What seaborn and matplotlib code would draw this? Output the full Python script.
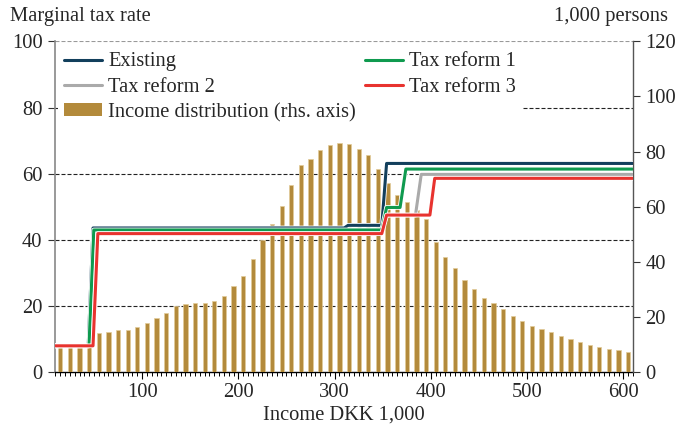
import matplotlib
matplotlib.use("Agg")
import matplotlib.pyplot as plt
import matplotlib.patheffects as pe
from matplotlib.ticker import MultipleLocator
from matplotlib.patches import Patch
from matplotlib.lines import Line2D
import seaborn as sns
import pandas as pd

# ---------------- data ----------------
income_bins = list(range(15, 606, 10))  # DKK 1,000 (bin centres)
persons = [9.5, 9.7, 10.0, 10.0, 14.1, 14.7, 15.3, 15.3, 16.4, 17.9,
           19.7, 21.6, 24.0, 24.7, 25.1, 25.1, 25.8, 27.5, 31.4, 35.0,
           40.9, 47.9, 53.7, 60.3, 67.9, 75.0, 77.3, 80.5, 82.4, 83.2,
           82.6, 81.0, 78.7, 73.7, 68.7, 64.1, 61.8, 59.0, 55.4, 47.2,
           41.9, 37.7, 33.3, 30.1, 26.9, 25.0, 22.9, 20.5, 18.6, 16.9,
           15.7, 14.5, 13.0, 12.2, 11.0, 10.0, 9.3, 8.4, 8.0, 7.4]  # 1,000 persons

existing_x = [9.5, 44, 49, 310, 314, 349, 354, 610]
existing_y = [8, 8, 43.6, 43.6, 44.4, 44.4, 63.1, 63.1]
reform1_x = [9.5, 44.8, 49.8, 349, 354, 368, 374, 610]
reform1_y = [8, 8, 43.0, 43.0, 49.8, 49.8, 61.4, 61.4]
reform2_x = [9.5, 44.8, 49.8, 349, 354, 384, 390, 610]
reform2_y = [8, 8, 43.0, 43.0, 47.5, 47.5, 59.8, 59.8]
reform3_x = [9.5, 49, 54, 349, 354, 399, 404, 610]
reform3_y = [8, 8, 41.9, 41.9, 47.5, 47.5, 58.6, 58.6]

left_ticks = [0, 20, 40, 60, 80, 100]
right_ticks = [0, 20, 40, 60, 80, 100, 120]
x_ticks = [100, 200, 300, 400, 500, 600]

# ---------------- style ----------------
sns.set_theme(style="white")
plt.rcParams["font.family"] = ["Liberation Serif", "DejaVu Serif"]
FS = 14.8
plt.rcParams["font.size"] = FS

C_EXIST = "#123f5c"
C_R1 = "#0f9a4f"
C_R2 = "#aaaaaa"
C_R3 = "#e8332f"
C_BAR = "#b38a3b"

fig = plt.figure(figsize=(6.79, 4.28), dpi=100)
L, R, T, B = 55, 633, 41.3, 372.3
ax = fig.add_axes([L / 679, 1 - B / 428, (R - L) / 679, (B - T) / 428])
axb = ax.twinx()
axl = ax.twinx()

# gridlines (behind bars)
for v in [20, 40, 60, 80]:
    ax.axhline(v, color="#222222", lw=0.8, ls=(0, (3.6, 1.8)), zorder=0)
ax.axhline(100, color="#999999", lw=0.8, ls=(0, (3.6, 1.8)), zorder=0)

# bars on right axis
df_bars = pd.DataFrame({"income": income_bins, "persons": persons})
sns.barplot(data=df_bars, x="income", y="persons", ax=axb, native_scale=True,
            width=0.45, color=C_BAR, edgecolor="#e3cc9a", linewidth=0.5,
            saturation=1)

# lines on left scale
stroke = [pe.Stroke(linewidth=3.4, foreground="white"), pe.Normal()]
series = [
    (reform2_x, reform2_y, C_R2),
    (existing_x, existing_y, C_EXIST),
    (reform1_x, reform1_y, C_R1),
    (reform3_x, reform3_y, C_R3),
]
for xs, ys, c in series:
    sns.lineplot(x=xs, y=ys, ax=axl, color=c, lw=2.2, sort=False,
                 estimator=None, path_effects=stroke)

# ---------------- axes ----------------
xlim = (9.5, 610)
for a in (ax, axb, axl):
    a.set_xlim(*xlim)
    a.set_xlabel("")
    a.set_ylabel("")
ax.set_ylim(0, 100)
axl.set_ylim(0, 100)
axb.set_ylim(0, 120)

ax.set_yticks(left_ticks)
axb.set_yticks(right_ticks)
axl.set_yticks([])
ax.xaxis.set_major_locator(MultipleLocator(100))
ax.xaxis.set_minor_locator(MultipleLocator(5))
ax.set_xticks(x_ticks)
ax.set_xticklabels([str(v) for v in x_ticks])
axb.tick_params(axis="x", which="both", bottom=False, labelbottom=False)
axl.tick_params(axis="x", which="both", bottom=False, labelbottom=False)

ax.tick_params(axis="y", which="major", left=True, length=5, width=0.8,
               color="#333333", pad=4, labelsize=FS)
ax.tick_params(axis="x", which="major", bottom=True, length=5, width=0.8,
               color="black", pad=3, labelsize=FS)
ax.tick_params(axis="x", which="minor", bottom=True, length=3, width=0.7,
               color="black")
axb.tick_params(axis="y", which="major", right=True, length=5, width=0.8,
                color="#333333", pad=4, labelsize=FS)

for a in (ax, axb, axl):
    for s in a.spines.values():
        s.set_visible(False)
ax.spines["left"].set_visible(True)
ax.spines["left"].set_color("#888888")
ax.spines["left"].set_linewidth(1.2)
ax.spines["bottom"].set_visible(True)
ax.spines["bottom"].set_color("black")
ax.spines["bottom"].set_linewidth(1.0)
axb.spines["right"].set_visible(True)
axb.spines["right"].set_color("#555555")
axb.spines["right"].set_linewidth(1.0)

ax.set_xlabel("Income DKK 1,000", fontsize=FS, labelpad=2)
fig.text(10 / 679, 1 - 16 / 428, "Marginal tax rate", fontsize=FS,
         ha="left", va="center")
fig.text(668 / 679, 1 - 16 / 428, "1,000 persons", fontsize=FS,
         ha="right", va="center")

# legend
handles = [
    Line2D([], [], color=C_EXIST, lw=2.2),
    Line2D([], [], color=C_R2, lw=2.2),
    Patch(facecolor=C_BAR, edgecolor="none"),
    Line2D([], [], color=C_R1, lw=2.2),
    Line2D([], [], color=C_R3, lw=2.2),
]
labels = ["Existing", "Tax reform 2", "Income distribution (rhs. axis)",
          "Tax reform 1", "Tax reform 3"]
leg = axl.legend(handles, labels, ncol=2, loc="upper left",
                 bbox_to_anchor=(0.005, 0.985), frameon=True, fancybox=False,
                 framealpha=1, facecolor="white", edgecolor="none",
                 fontsize=FS, borderpad=0.3, borderaxespad=0,
                 handlelength=1.85, handletextpad=0.3, columnspacing=0.45,
                 labelspacing=0.3, handleheight=0.6)
leg.set_zorder(10)

fig.savefig("out.png", dpi=100)
